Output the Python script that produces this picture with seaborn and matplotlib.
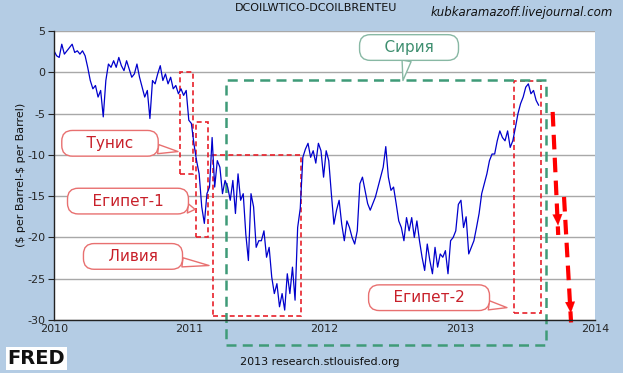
import numpy as np
import pandas as pd
import seaborn as sns
import matplotlib
matplotlib.use('Agg')
import matplotlib.pyplot as plt
import matplotlib.dates as mdates
from matplotlib.patches import Rectangle

# Weekly WTI - Brent spread ($ per barrel)
spread_2010 = [2.6, 2.0, 1.8, 3.4, 2.2, 2.6, 3.0, 3.4, 2.4, 2.6, 2.2, 2.6, 2.0,
               0.6, -1.0, -2.0, -1.6, -3.0, -2.2, -5.4, -1.0, 1.0, 0.6, 1.4, 0.6, 1.8,
               0.8, 0.2, 1.4, 0.4, -0.6, -0.2, 1.0, -0.6, -1.8, -3.0, -2.2, -5.6, -1.0,
               -1.4, -0.2, 0.8, -1.0, -0.2, -1.4, -0.6, -2.0, -1.6, -2.6, -2.0, -2.8, -2.2]
spread_2011 = [-5.8, -6.2, -8.7, -10.7, -12.3, -16.3, -18.3, -14.7, -13.9, -7.9, -13.9, -10.7, -11.5,
               -14.7, -13.1, -13.9, -15.5, -13.1, -17.1, -12.3, -15.5, -14.7, -19.6, -22.8, -14.7, -16.3,
               -21.2, -20.4, -20.4, -19.2, -22.4, -21.2, -24.8, -26.8, -25.6, -28.4, -26.8, -28.8, -24.4,
               -26.8, -23.6, -27.6, -18.8, -16.5, -10.3, -9.3, -8.6, -10.3, -9.5, -11.0, -8.6, -9.5]
spread_2012 = [-12.7, -9.5, -10.7, -14.7, -18.4, -16.7, -15.5, -18.4, -20.4, -18.0, -18.8, -20.0, -20.8,
               -19.2, -13.5, -12.7, -14.3, -15.9, -16.7, -15.9, -15.1, -13.9, -12.7, -11.5, -9.0, -12.7,
               -14.3, -13.9, -15.9, -18.0, -18.8, -20.4, -17.6, -19.2, -17.6, -20.0, -18.0, -20.4, -22.4,
               -24.0, -20.8, -22.8, -24.4, -21.2, -23.6, -22.0, -22.4, -21.6, -24.4, -20.4, -20.0, -19.2]
spread_2013 = [-16.0, -15.5, -18.8, -17.5, -22.0, -21.2, -20.4, -18.8, -17.1, -14.7, -13.5, -12.3, -10.7,
               -9.9, -9.9, -8.3, -7.1, -7.9, -8.3, -7.1, -9.1, -8.3, -6.7, -5.0, -3.8, -3.0,
               -1.8, -1.4, -2.6, -2.2, -3.4, -4.0]

spread = spread_2010 + spread_2011 + spread_2012 + spread_2013
dates = pd.date_range('2010-01-01', periods=len(spread), freq='7D')
df = pd.DataFrame({'date': dates, 'spread': spread})

year_ticks = [2010, 2011, 2012, 2013, 2014]
y_ticks = [5, 0, -5, -10, -15, -20, -25, -30]

# annotation boxes: (label, box centre, pointer tip) in (year, $)
callouts = [('Тунис', (2010.414, -8.6), (2010.917, -9.6)),
            ('Египет-1', (2010.547, -15.6), (2011.043, -16.6)),
            ('Ливия', (2010.584, -22.3), (2011.146, -23.4)),
            ('Египет-2', (2012.773, -27.3), (2013.349, -28.5))]
red_boxes = [(2010.932, 2011.026, -12.3, 0.0),
             (2011.050, 2011.139, -19.9, -6.0),
             (2011.173, 2011.824, -29.5, -10.0),
             (2013.401, 2013.601, -29.2, -1.1)]
syria_box = (2011.272, 2013.638, -33.0, -0.9)
arrows = [((2013.687, -4.8), (2013.728, -18.9)),
          ((2013.771, -15.1), (2013.823, -29.5))]

t0 = mdates.date2num(pd.Timestamp('2010-01-01'))


def yr(f):
    """decimal year -> matplotlib date number"""
    return t0 + (f - 2010) * 365.25


def bubble(label, box, tip, tcolor, ecolor):
    """rounded text box with a wedge tail pointing at tip"""
    ax.annotate('    ' + label + '    ', xy=(yr(tip[0]), tip[1]), xytext=(yr(box[0]), box[1]),
                ha='center', va='center', fontsize=11, color=tcolor, zorder=6,
                bbox=dict(boxstyle='round,pad=0.35,rounding_size=0.7', fc='white',
                          ec=ecolor, lw=1),
                arrowprops=dict(arrowstyle='wedge,tail_width=0.6,shrink_factor=0.5',
                                fc='white', ec=ecolor, lw=1, shrinkA=0, shrinkB=0))


sns.set_style('white')
plt.rcParams['font.family'] = ['DejaVu Sans']
bg = '#b4cce4'
fig = plt.figure(figsize=(6.23, 3.73), dpi=100, facecolor=bg)
ax = fig.add_axes([54/623, 1-320/373, (595-54)/623, (320-31)/373])
ax.set_facecolor('white')

sns.lineplot(data=df, x='date', y='spread', ax=ax, color='#0000cc', lw=0.9)

ax.set_xlim(yr(2010), yr(2014))
ax.set_ylim(-30, 5)
ax.set_xticks([yr(y) for y in year_ticks])
ax.set_xticklabels([str(y) for y in year_ticks])
ax.set_yticks(y_ticks)
ax.set_yticklabels([str(v) for v in y_ticks])
ax.yaxis.grid(True, color='#a8a8a8', lw=1)
ax.set_axisbelow(True)
ax.tick_params(axis='x', direction='in', length=5, pad=3, labelsize=8, color='#222222')
ax.tick_params(axis='y', direction='out', length=4, pad=2, labelsize=8, color='#222222', left=True)
ax.set_xlabel('')
ax.set_ylabel('')
for s in ['top', 'right']:
    ax.spines[s].set_visible(False)
for s in ['left', 'bottom']:
    ax.spines[s].set_color('#222222')
    ax.spines[s].set_linewidth(1)

# dashed boxes
for x0, x1, y0, y1 in red_boxes:
    ax.add_patch(Rectangle((yr(x0), y0), yr(x1) - yr(x0), y1 - y0, fill=False,
                           ec='#e8202a', lw=1.2, ls=(0, (3, 2))))
x0, x1, y0, y1 = syria_box
ax.add_patch(Rectangle((yr(x0), y0), yr(x1) - yr(x0), y1 - y0, fill=False,
                       ec='#3f9b78', lw=1.8, ls=(0, (4, 2.5)), clip_on=False))

# red dashed arrows
for (xa, ya), (xb, yb) in arrows:
    ax.plot([yr(xa), yr(xb)], [ya, yb - 0.8], color='#ff0000', lw=3, ls=(0, (3.5, 2)),
            solid_capstyle='butt', dash_capstyle='butt', clip_on=False)
    ax.annotate('', xy=(yr(xb), yb), xytext=(yr(xb) - (yr(xb) - yr(xa)) * 0.1, yb + 1.2),
                arrowprops=dict(arrowstyle='-|>,head_length=0.8,head_width=0.35',
                                color='#ff0000', lw=0.1), annotation_clip=False)

# speech-bubble callouts
for label, box, tip in callouts:
    bubble(label, box, tip, '#c8202a', '#e87070')
bubble('Сирия', (2012.625, 3.0), (2012.58, -1.0), '#3f8f70', '#88b8a4')

# page texts
fig.text(0.507, 0.979, 'DCOILWTICO-DCOILBRENTEU', ha='center', va='center', fontsize=8, color='#111111')
fig.text(0.838, 0.966, 'kubkaramazoff.livejournal.com', ha='center', va='center', fontsize=8.5,
         style='italic', color='#111111')
fig.text(0.033, 0.53, r'(\$ per Barrel-\$ per Barrel)', rotation=90, ha='center', va='center',
         fontsize=8, color='#111111')
fig.text(0.514, 0.03, '2013 research.stlouisfed.org', ha='center', va='center', fontsize=8, color='#111111')
fig.text(0.012, 0.038, 'FRED', ha='left', va='center', fontsize=14, fontweight='bold', color='#111111',
         bbox=dict(boxstyle='square,pad=0.1', fc='white', ec='none'))

fig.savefig('out.png', dpi=100, facecolor=bg)
